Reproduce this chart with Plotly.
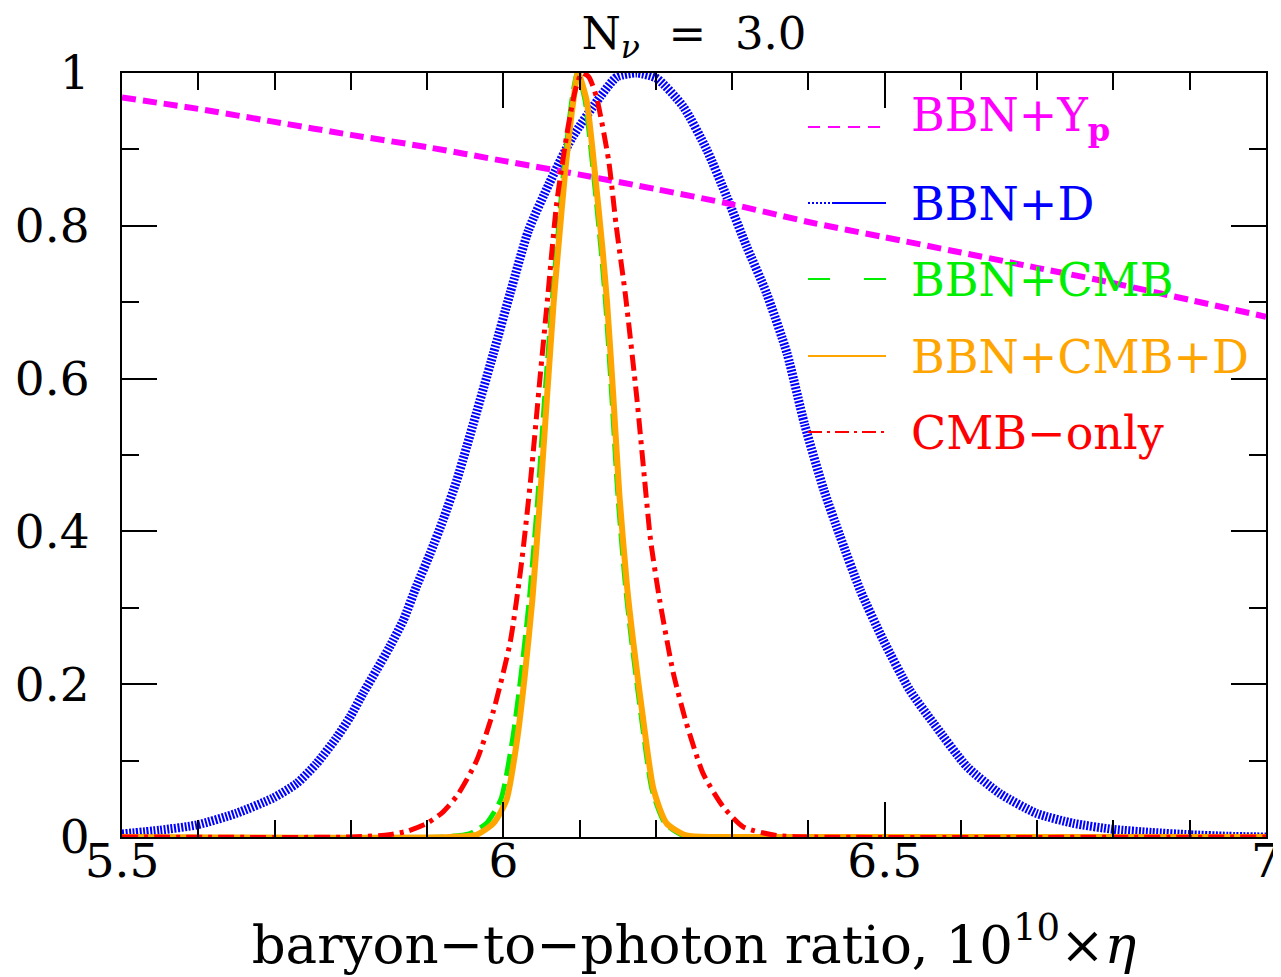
import plotly.graph_objects as go

# ---- data ----
yp_x = [5.50, 5.60, 5.70, 5.80, 5.90, 6.00, 6.10, 6.20, 6.30, 6.40, 6.50, 6.60, 6.70, 6.80, 6.90, 7.00]
yp_y = [0.968, 0.953, 0.936, 0.919, 0.903, 0.885, 0.867, 0.848, 0.828, 0.805, 0.785, 0.765, 0.745, 0.725, 0.703, 0.681]

d_x = [5.50, 5.55, 5.599, 5.650, 5.698, 5.729, 5.755, 5.782, 5.799, 5.816, 5.834, 5.851, 5.869, 5.886, 5.904,
       5.921, 5.939, 5.952, 5.987, 6.009, 6.033, 6.06, 6.09, 6.127, 6.149, 6.175, 6.201, 6.236, 6.267, 6.293,
       6.319, 6.345, 6.372, 6.395, 6.42, 6.441, 6.468, 6.498, 6.533, 6.564, 6.608, 6.651, 6.699, 6.747, 6.80,
       6.85, 6.90, 6.95, 7.00]
d_y = [0.004, 0.009, 0.016, 0.031, 0.051, 0.070, 0.096, 0.131, 0.157, 0.188, 0.219, 0.249, 0.284, 0.328, 0.371,
       0.415, 0.467, 0.511, 0.633, 0.712, 0.794, 0.855, 0.915, 0.969, 0.995, 1.000, 0.993, 0.956, 0.899, 0.838,
       0.773, 0.712, 0.633, 0.540, 0.455, 0.395, 0.323, 0.258, 0.192, 0.149, 0.092, 0.057, 0.031, 0.018, 0.010,
       0.006, 0.003, 0.001, 0.000]

cmb_bbn_x = [5.50, 5.92, 5.955, 5.978, 5.997, 6.012, 6.023, 6.034, 6.045, 6.054, 6.064, 6.070, 6.079, 6.090, 6.097,
             6.107, 6.118, 6.128, 6.134, 6.142, 6.150, 6.160, 6.168, 6.182, 6.195, 6.212, 6.236, 6.28, 7.00]
cmb_bbn_y = [0.0, 0.0, 0.004, 0.018, 0.050, 0.127, 0.210, 0.310, 0.441, 0.572, 0.700, 0.770, 0.870, 0.965, 1.000,
             0.965, 0.870, 0.770, 0.700, 0.580, 0.450, 0.330, 0.258, 0.149, 0.062, 0.018, 0.002, 0.0, 0.0]

all_x = [5.50, 5.93, 5.965, 5.987, 6.004, 6.018, 6.028, 6.038, 6.048, 6.057, 6.066, 6.072, 6.081, 6.092, 6.098,
         6.109, 6.120, 6.130, 6.136, 6.144, 6.152, 6.162, 6.170, 6.184, 6.197, 6.214, 6.240, 6.28, 7.00]
all_y = [0.0, 0.0, 0.003, 0.018, 0.048, 0.127, 0.210, 0.310, 0.441, 0.572, 0.700, 0.770, 0.870, 0.965, 1.000,
         0.965, 0.870, 0.770, 0.700, 0.580, 0.450, 0.330, 0.258, 0.149, 0.062, 0.018, 0.002, 0.0, 0.0]

cmb_x = [5.50, 5.80, 5.85, 5.875, 5.90, 5.92, 5.94, 5.965, 5.987, 6.009, 6.024, 6.036, 6.048, 6.058, 6.070, 6.085,
         6.095, 6.103, 6.112, 6.122, 6.138, 6.148, 6.160, 6.175, 6.185, 6.193, 6.205, 6.223, 6.240, 6.262, 6.288,
         6.315, 6.358, 6.40, 7.00]
cmb_y = [0.0, 0.0, 0.003, 0.008, 0.018, 0.032, 0.055, 0.100, 0.165, 0.255, 0.360, 0.470, 0.600, 0.705, 0.830, 0.930,
         0.980, 1.000, 0.995, 0.969, 0.886, 0.800, 0.710, 0.575, 0.470, 0.389, 0.310, 0.214, 0.149, 0.083, 0.040,
         0.013, 0.002, 0.0, 0.0]

x_ticks = [5.5, 6, 6.5, 7]
x_labels = ["5.5", "6", "6.5", "7"]
y_ticks = [0, 0.2, 0.4, 0.6, 0.8, 1]
y_labels = ["0", "0.2", "0.4", "0.6", "0.8", "1"]

legend_labels = ["BBN+Y<sub><b>p</b></sub>", "BBN+D", "BBN+CMB", "BBN+CMB+D", "CMB\u2212only"]
legend_colors = ["#ff00ff", "#0000ff", "#00ee00", "#ffa500", "#ff0000"]

FONT = "DejaVu Serif"

fig = go.Figure()
fig.add_trace(go.Scatter(x=d_x, y=d_y, mode="lines", line=dict(color="#0000ff", width=9, dash="2px,1.5px", shape="spline", smoothing=0.6)))
fig.add_trace(go.Scatter(x=yp_x, y=yp_y, mode="lines", line=dict(color="#ff00ff", width=6, dash="14px,7px", shape="spline", smoothing=0.6)))
fig.add_trace(go.Scatter(x=cmb_bbn_x, y=cmb_bbn_y, mode="lines", line=dict(color="#00ee00", width=5, dash="22px,8px", shape="spline", smoothing=0.6)))
fig.add_trace(go.Scatter(x=all_x, y=all_y, mode="lines", line=dict(color="#ffa500", width=6, shape="spline", smoothing=0.6)))
fig.add_trace(go.Scatter(x=cmb_x, y=cmb_y, mode="lines", line=dict(color="#ff0000", width=5, dash="16px,6px,4px,6px", shape="spline", smoothing=0.6)))

# page body has an 8px margin: lay the figure out so that the plot lands where the reference has it
OFF = 8
W, H = 1281 - OFF, 977 - OFF
L, R, T, B = 122, 1266, 73, 837          # plot frame in screen pixels
def px_x(p):
    return (p - L) / (R - L)
def px_y(p):
    return (B - p) / (B - T)

rows = [127, 203, 279, 356, 432]
sample_styles = [
    [dict(x0=808, x1=886, dash="12px,8px")],
    [dict(x0=808, x1=832, dash="2px,2px"), dict(x0=832, x1=886, dash="solid")],
    [dict(x0=808, x1=886, dash="22px,34px")],
    [dict(x0=808, x1=886, dash="solid")],
    [dict(x0=808, x1=886, dash="14px,5px,3px,5px")],
]
shapes = []
for row, col, segs in zip(rows, legend_colors, sample_styles):
    for s in segs:
        shapes.append(dict(type="line", xref="paper", yref="paper",
                           x0=px_x(s["x0"]), x1=px_x(s["x1"]), y0=px_y(row), y1=px_y(row),
                           line=dict(color=col, width=2, dash=s["dash"])))
annotations = []
text_rows = [119, 204, 280, 357, 433]
for row, col, lab in zip(text_rows, legend_colors, legend_labels):
    annotations.append(dict(x=px_x(909), y=px_y(row), xref="paper", yref="paper", text=lab,
                            showarrow=False, xanchor="left", yanchor="middle",
                            font=dict(family=FONT, size=46, color=col)))

fig.update_layout(
    width=W, height=H,
    margin=dict(l=L - OFF, r=W - (R - OFF), t=T - OFF, b=H - (B - OFF)),
    paper_bgcolor="white", plot_bgcolor="white",
    showlegend=False,
    font=dict(family=FONT, size=44, color="black"),
    title=dict(text="N<sub><i>\u03bd</i></sub>  =  3.0", x=0.5, xref="paper", xanchor="center",
               y=1 - (33 - OFF) / H, yref="container", yanchor="middle",
               font=dict(family=FONT, size=45, color="black")),
    shapes=shapes, annotations=annotations,
)
fig.update_xaxes(range=[5.5, 7], tickvals=x_ticks, ticktext=x_labels, automargin=False,
                 ticks="inside", ticklen=35, tickwidth=2, tickcolor="black",
                 minor=dict(dtick=0.1, tick0=5.5, ticks="inside", ticklen=17, tickwidth=2, tickcolor="black"),
                 showline=True, linewidth=2, linecolor="black", mirror="allticks", showgrid=False, zeroline=False,
                 tickfont=dict(family=FONT, size=47), ticklabelstandoff=-18,
                 title=dict(text="baryon\u2212to\u2212photon ratio, 10<sup>10</sup>\u00d7<i>\u03b7</i>",
                            font=dict(family=FONT, size=53), standoff=38))
fig.update_yaxes(range=[0, 1], tickvals=y_ticks, ticktext=y_labels, automargin=False,
                 ticks="inside", ticklen=35, tickwidth=2, tickcolor="black",
                 minor=dict(dtick=0.1, tick0=0, ticks="inside", ticklen=17, tickwidth=2, tickcolor="black"),
                 showline=True, linewidth=2, linecolor="black", mirror="allticks", showgrid=False, zeroline=False,
                 tickfont=dict(family=FONT, size=47), ticklabelstandoff=21)

fig.write_html("out.html")
